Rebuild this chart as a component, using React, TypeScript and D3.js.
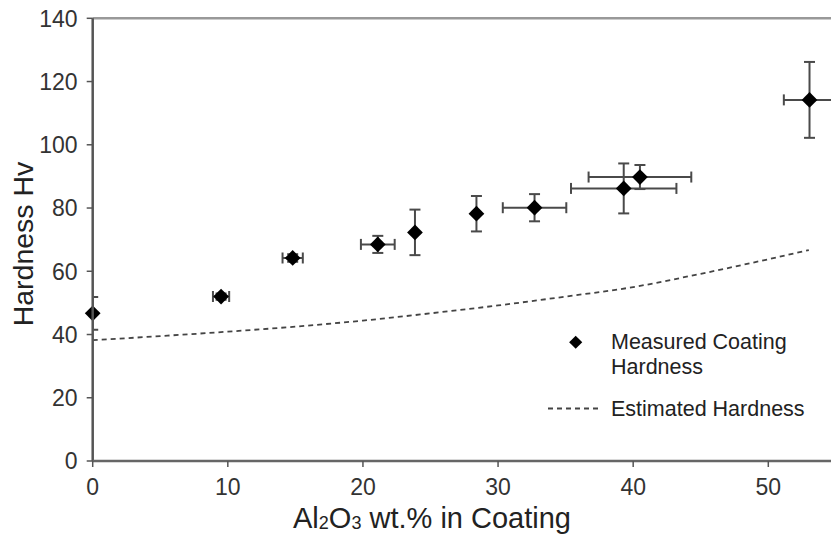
import React from "react";
import { scaleLinear, line, curveMonotoneX, symbol, symbolSquare } from "d3";

// measured coating hardness (Al2O3 wt.% vs Hv) with error bars
const alumina = [0, 9.5, 14.8, 21.1, 23.85, 28.4, 32.7, 39.3, 40.5, 53.05];
const hardness = [46.7, 52, 64.2, 68.5, 72.3, 78.2, 80.1, 86.2, 89.8, 114.2];
const aluminaErr = [0, 0.6, 0.75, 1.25, 0, 0, 2.35, 3.9, 3.8, 1.9];
const hardnessErr = [5.2, 1, 1.2, 2.7, 7.2, 5.6, 4.3, 7.9, 3.8, 12];

// estimated hardness curve
const estX = [0, 5, 10, 15, 20, 25, 30, 35, 40, 45, 50, 53];
const estY = [38.2, 39.5, 40.9, 42.5, 44.4, 46.7, 49.2, 52.0, 55.0, 59.2, 63.8, 66.7];

const xTicks = [0, 10, 20, 30, 40, 50];
const yTicks = [0, 20, 40, 60, 80, 100, 120, 140];

const width = 831;
const height = 540;
const font = "Arial, 'Liberation Sans', sans-serif";

const App = () => {
  const x = scaleLinear().domain([0, 50]).range([92.7, 768.3]);
  const y = scaleLinear().domain([0, 140]).range([461, 18.3]);

  const points = alumina.map((a, i) => ({
    x: a,
    y: hardness[i],
    ex: aluminaErr[i],
    ey: hardnessErr[i],
  }));

  const estLine = line<number>()
    .x((d) => x(d))
    .y((_, i) => y(estY[i]))
    .curve(curveMonotoneX);

  const diamond = symbol().type(symbolSquare).size(124)();
  const legendDiamond = symbol().type(symbolSquare).size(86)();

  const x0 = x(0);
  const y0 = y(0);
  const cap = 5.5;

  return (
    <svg
      width={width}
      height={height}
      style={{ position: "absolute", left: 0, top: 0, background: "#fff" }}
      fontFamily={font}
    >
      <defs>
        <clipPath id="plot">
          <rect x={x0} y={0} width={width - x0} height={y0} />
        </clipPath>
      </defs>

      {/* frame */}
      <line x1={x0} x2={width} y1={y(140)} y2={y(140)} stroke="#999" strokeWidth={2.5} />

      {/* estimated hardness */}
      <path
        d={estLine(estX) || ""}
        fill="none"
        stroke="#444"
        strokeWidth={1.8}
        strokeDasharray="5,4"
      />

      {/* error bars + markers */}
      <g clipPath="url(#plot)">
        {points.map((d, i) => (
          <g key={i} stroke="#4a4a4a" strokeWidth={2}>
            {d.ey > 0 && (
              <>
                <line x1={x(d.x)} x2={x(d.x)} y1={y(d.y - d.ey)} y2={y(d.y + d.ey)} />
                <line x1={x(d.x) - cap} x2={x(d.x) + cap} y1={y(d.y + d.ey)} y2={y(d.y + d.ey)} />
                <line x1={x(d.x) - cap} x2={x(d.x) + cap} y1={y(d.y - d.ey)} y2={y(d.y - d.ey)} />
              </>
            )}
            {d.ex > 0 && (
              <>
                <line x1={x(d.x - d.ex)} x2={x(d.x + d.ex)} y1={y(d.y)} y2={y(d.y)} />
                <line x1={x(d.x - d.ex)} x2={x(d.x - d.ex)} y1={y(d.y) - cap} y2={y(d.y) + cap} />
                <line x1={x(d.x + d.ex)} x2={x(d.x + d.ex)} y1={y(d.y) - cap} y2={y(d.y) + cap} />
              </>
            )}
          </g>
        ))}
      </g>
      {points.map((d, i) => (
        <path
          key={i}
          d={diamond || ""}
          transform={`translate(${x(d.x)},${y(d.y)}) rotate(45)`}
          fill="#000"
        />
      ))}

      {/* axes */}
      <line x1={x0} x2={x0} y1={y(140)} y2={y0} stroke="#555" strokeWidth={2.5} />
      <line x1={x0} x2={width} y1={y0} y2={y0} stroke="#666" strokeWidth={2.5} />

      {yTicks.map((t) => (
        <g key={t} transform={`translate(0,${y(t)})`}>
          <line x1={x0 - 6} x2={x0} stroke="#555" strokeWidth={1.5} />
          <text x={77.5} dy="0.36em" textAnchor="end" fontSize={23} fill="#333">
            {t}
          </text>
        </g>
      ))}
      {xTicks.map((t) => (
        <g key={t} transform={`translate(${x(t)},0)`}>
          <line y1={y0} y2={y0 + 6} stroke="#555" strokeWidth={1.5} />
          <text y={y0 + 34} textAnchor="middle" fontSize={23} fill="#333">
            {t}
          </text>
        </g>
      ))}

      {/* axis titles */}
      <text
        transform={`translate(33,244) rotate(-90)`}
        textAnchor="middle"
        fontSize={28.5}
        fill="#222"
      >
        Hardness Hv
      </text>
      <text x={432} y={528} textAnchor="middle" fontSize={29} fill="#222">
        Al<tspan fontSize={18} dy={1}>2</tspan>
        <tspan dy={-1}>O</tspan>
        <tspan fontSize={18} dy={1}>3</tspan>
        <tspan dy={-1}> wt.% in Coating</tspan>
      </text>

      {/* legend */}
      <path d={legendDiamond || ""} transform="translate(575.7,342.3) rotate(45)" fill="#000" />
      <text x={611} y={349} fontSize={21.5} fill="#222">
        Measured Coating
      </text>
      <text x={611} y={374} fontSize={21.5} fill="#222">
        Hardness
      </text>
      <line
        x1={548}
        x2={600}
        y1={408.5}
        y2={408.5}
        stroke="#444"
        strokeWidth={1.8}
        strokeDasharray="5,4"
      />
      <text x={611} y={415.5} fontSize={21.5} fill="#222">
        Estimated Hardness
      </text>
    </svg>
  );
};

export default App;
